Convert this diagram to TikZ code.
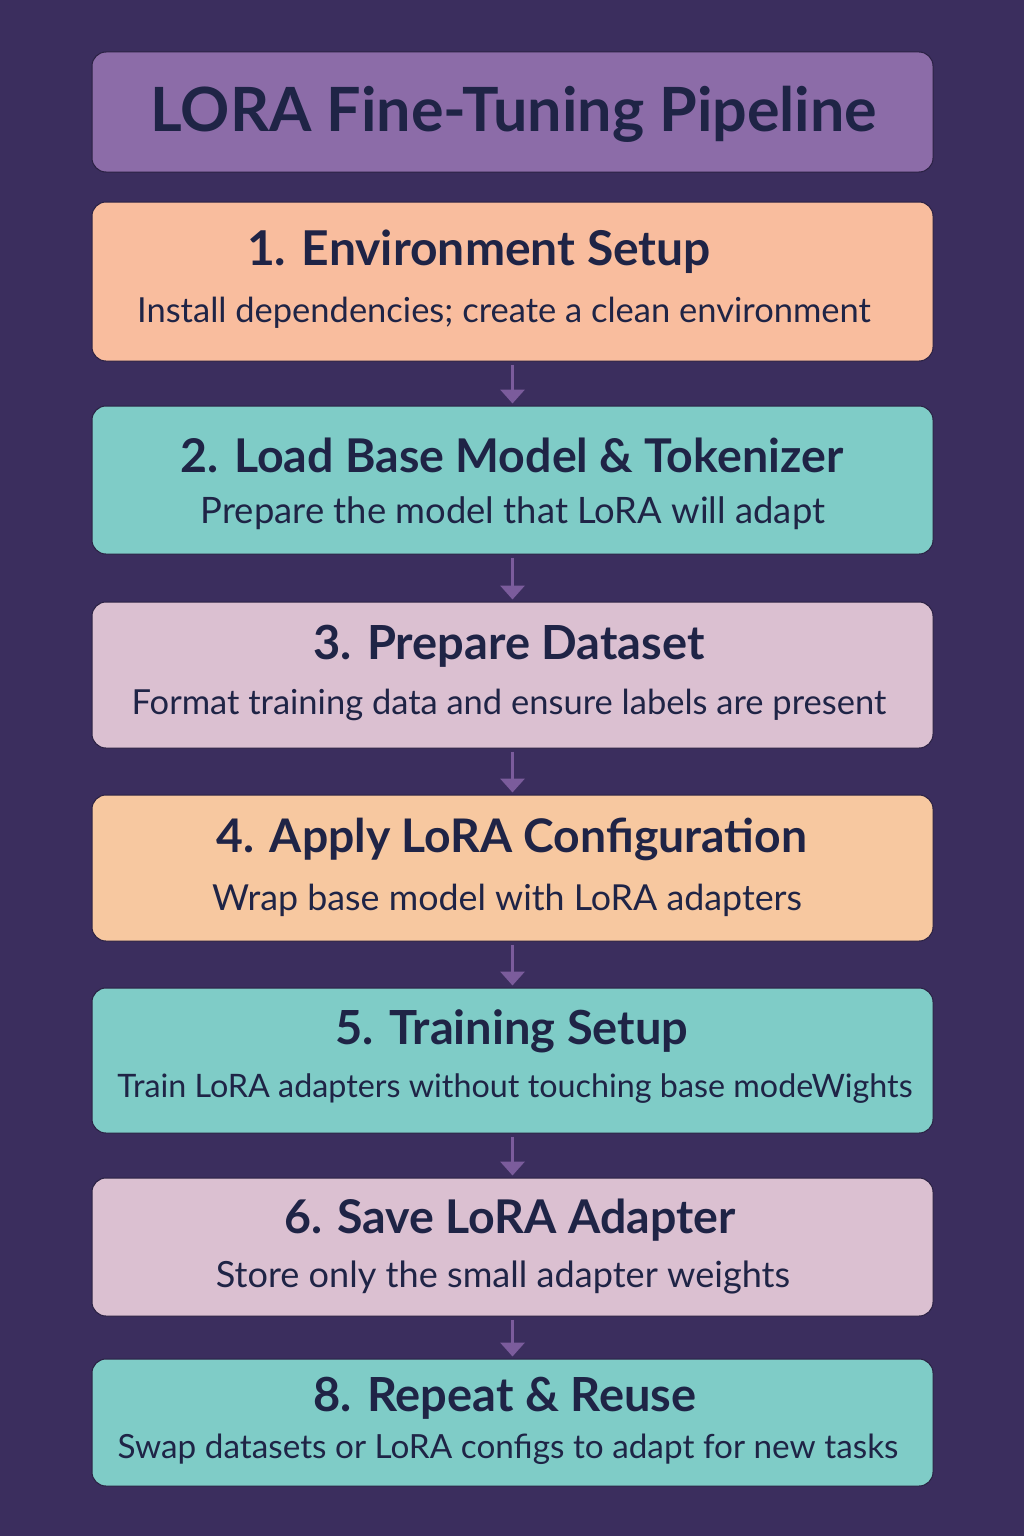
\documentclass[tikz,border=0pt]{standalone}
\usepackage{fontspec}
\setmainfont{Lato}
\usetikzlibrary{arrows.meta}

\definecolor{bgpurple}{HTML}{3B2E5E}
\definecolor{headbox}{HTML}{8C6CA8}
\definecolor{peach}{HTML}{F9BD9E}
\definecolor{teal}{HTML}{7FCCC7}
\definecolor{pinkish}{HTML}{DBC0D1}
\definecolor{apricot}{HTML}{F7C8A0}
\definecolor{ink}{HTML}{1F2446}
\definecolor{arrowc}{HTML}{7B5C9C}

\tikzset{
  stage/.style={draw=bgpurple!70!black, line width=1pt, rounded corners=14pt,
    minimum width=841pt, inner sep=0pt},
  stagetitle/.style={text=ink, font=\fontsize{#1}{54}\selectfont\bfseries},
  stagetitle/.default=47,
  stagetext/.style={text=ink, font=\fontsize{#1}{40}\selectfont},
  stagetext/.default=34.5,
  flow/.style={draw=arrowc, line width=3.5pt,
    -{Triangle[length=14pt,width=24pt]}, shorten <=3pt, shorten >=2pt},
}

\begin{document}
\begin{tikzpicture}[x=1pt,y=-1pt]
  \fill[bgpurple] (0,0) rectangle (1024,1536);
  \useasboundingbox (0,0) rectangle (1024,1536);

  % heading
  \node[stage, fill=headbox, minimum height=120pt] (head) at (512.5,112) {};
  \node[text=ink, font=\fontsize{61}{66}\selectfont\bfseries] (headtext) at (514,114) {LORA Fine-Tuning Pipeline};

  % stage boxes
  \node[stage, fill=peach, minimum height=159pt] (s1) at (512.5,281.5) {};
  \node[stage, fill=teal, minimum height=148pt] (s2) at (512.5,480) {};
  \node[stage, fill=pinkish, minimum height=146pt] (s3) at (512.5,675) {};
  \node[stage, fill=apricot, minimum height=146pt] (s4) at (512.5,868) {};
  \node[stage, fill=teal, minimum height=145pt] (s5) at (512.5,1060.5) {};
  \node[stage, fill=pinkish, minimum height=138pt] (s6) at (512.5,1247) {};
  \node[stage, fill=teal, minimum height=127pt] (s8) at (512.5,1422.5) {};

  % stage labels
  \node[stagetitle=48]   (t1) at (479,252) {1. Environment Setup};
  \node[stagetext]       (d1) at (504,313) {Install dependencies; create a clean environment};
  \node[stagetitle=46.5] (t2) at (512,455) {2. Load Base Model \& Tokenizer};
  \node[stagetext=36.4]  (d2) at (513,513) {Prepare the model that LoRA will adapt};
  \node[stagetitle]      (t3) at (509,646) {3. Prepare Dataset};
  \node[stagetext]       (d3) at (509,705) {Format training data and ensure labels are present};
  \node[stagetitle=46.3] (t4) at (512,839) {4. Apply LoRA Configuration};
  \node[stagetext=35.8]  (d4) at (507,900) {Wrap base model with LoRA adapters};
  \node[stagetitle]      (t5) at (512,1031) {5. Training Setup};
  \node[stagetext=32.3]  (d5) at (515,1089) {Train LoRA adapters without touching base modeWights};
  \node[stagetitle=46.5] (t6) at (510,1220) {6. Save LoRA Adapter};
  \node[stagetext=36.1]  (d6) at (503,1277) {Store only the small adapter weights};
  \node[stagetitle]      (t8) at (505,1398) {8. Repeat \& Reuse};
  \node[stagetext=33.3]  (d8) at (508,1449) {Swap datasets or LoRA configs to adapt for new tasks};

  % connectors between stages
  \draw[flow] (s1.south) -- (s2.north);
  \draw[flow] (s2.south) -- (s3.north);
  \draw[flow] (s3.south) -- (s4.north);
  \draw[flow] (s4.south) -- (s5.north);
  \draw[flow] (s5.south) -- (s6.north);
  \draw[flow] (s6.south) -- (s8.north);
\end{tikzpicture}
\end{document}
